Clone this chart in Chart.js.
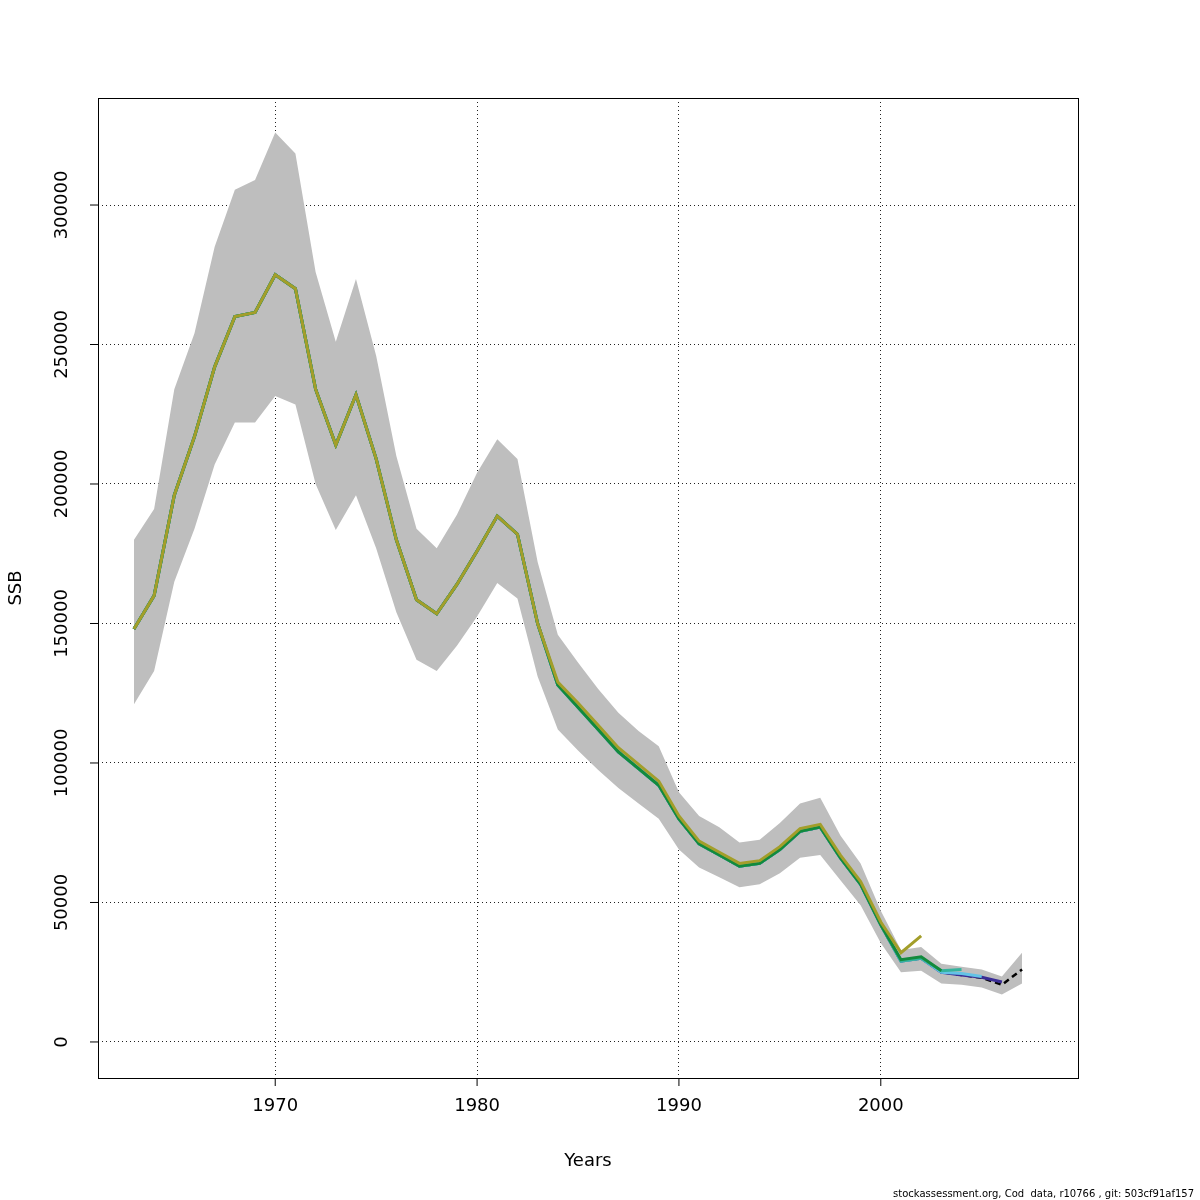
<!DOCTYPE html>
<html>
<head>
<meta charset="utf-8">
<script src="https://cdn.jsdelivr.net/npm/chart.js@4"></script>
<style>
  body { margin: 0; background: #fff; }
  #wrap { width: 1200px; height: 1200px; }
</style>
</head>
<body>
<div id="wrap"><canvas id="ssbChart" width="1200" height="1200"></canvas></div>
<script>
const years = [1963,1964,1965,1966,1967,1968,1969,1970,1971,1972,1973,1974,1975,1976,1977,1978,1979,1980,1981,1982,1983,1984,1985,1986,1987,1988,1989,1990,1991,1992,1993,1994,1995,1996,1997,1998,1999,2000,2001,2002,2003,2004,2005,2006,2007];
const ssb = [148000,160000,196000,217000,242000,260000,261500,275000,270000,234000,214000,232000,209000,180000,158500,153500,164000,176000,188500,182000,150000,128000,120000,112000,104000,98000,92000,80000,71000,67000,63000,64000,69000,75500,77000,66000,56500,42000,29000,30000,25000,24000,23000,20500,26000];
const ssbHigh = [180000,191000,234000,254000,285000,305500,309000,326000,318500,276000,251000,273500,246000,210000,184000,177000,189000,204000,216000,209000,172000,146000,136000,126500,118000,111500,106000,89500,81000,77000,71500,72500,78500,85500,87500,74000,64000,47000,33000,34000,28000,27000,26000,23500,32000];
const ssbLow = [121000,133000,165000,184000,207000,222000,222000,231500,228500,200000,183500,196000,177000,154000,137000,133000,142000,152500,164500,159000,131000,112000,104500,97500,91000,85500,80000,69000,62500,59000,55500,56500,60500,66000,67000,58000,49000,35500,25000,25500,21000,20500,19500,17000,21000];
// retrospective peels: tails that differ from the final run
const peel1Tail = [23200,21500];          // to 2006
const peel2Tail = [24500,23500];          // to 2005
const peel3Tail = [25500,26000];          // to 2004
const peel4Tail = [29500,30500,25500];    // to 2003
const peel5Tail = [129000,121500,113500,105500,99500,93500,81000,72000,68000,64000,65000,70000,76500,78000,67000,57500,43000,32000,38000]; // 1984 to 2002
const xTicks = [1970,1980,1990,2000];
const yTicks = [0,50000,100000,150000,200000,250000,300000];

const pts = arr => arr.map((v, i) => ({ x: years[i], y: v }));
const withTail = (lastYear, tail) => {
  const end = years.indexOf(lastYear);
  const head = ssb.slice(0, end + 1 - tail.length);
  return pts(head.concat(tail));
};

const frame = {
  id: 'frame',
  afterDraw(chart) {
    const { ctx, chartArea: a, scales: { x, y } } = chart;
    ctx.save();
    ctx.strokeStyle = '#000';
    ctx.lineWidth = 1;
    ctx.strokeRect(a.left + 0.5, a.top + 0.5, a.right - a.left, a.bottom - a.top);
    ctx.fillStyle = '#000';
    ctx.font = '18px "DejaVu Sans"';
    ctx.textAlign = 'center';
    ctx.textBaseline = 'top';
    xTicks.forEach(v => {
      const px = x.getPixelForValue(v);
      ctx.beginPath(); ctx.moveTo(px, a.bottom); ctx.lineTo(px, a.bottom + 8); ctx.stroke();
      ctx.fillText(String(v), px, a.bottom + 19);
    });
    yTicks.forEach(v => {
      const py = y.getPixelForValue(v);
      ctx.beginPath(); ctx.moveTo(a.left, py); ctx.lineTo(a.left - 8, py); ctx.stroke();
      ctx.save();
      ctx.translate(a.left - 36, py);
      ctx.rotate(-Math.PI / 2);
      ctx.textBaseline = 'middle';
      ctx.fillText(String(v), 0, 0);
      ctx.restore();
    });
    ctx.fillText('Years', (a.left + a.right) / 2, 1152);
    ctx.save();
    ctx.translate(16, (a.top + a.bottom) / 2);
    ctx.rotate(-Math.PI / 2);
    ctx.textBaseline = 'middle';
    ctx.fillText('SSB', 0, 0);
    ctx.restore();
    ctx.font = '10px "DejaVu Sans"';
    ctx.textAlign = 'right';
    ctx.fillText('stockassessment.org, Cod  data, r10766 , git: 503cf91af157', 1194, 1189);
    ctx.restore();
  }
};

const line = (data, color, order, extra) => Object.assign({
  data, borderColor: color, borderWidth: 3, pointRadius: 0, fill: false, tension: 0, order
}, extra || {});

new Chart(document.getElementById('ssbChart'), {
  type: 'line',
  data: {
    datasets: [
      { data: pts(ssbHigh), borderWidth: 0, borderColor: 'rgba(0,0,0,0)', backgroundColor: '#bebebe', pointRadius: 0, fill: false, order: 8 },
      { data: pts(ssbLow), borderWidth: 0, borderColor: 'rgba(0,0,0,0)', backgroundColor: '#bebebe', pointRadius: 0, fill: '-1', order: 7 },
      line(pts(ssb), '#000', 6, { borderDash: [6, 4], borderWidth: 2.5 }),
      line(withTail(2006, peel1Tail), '#3a2c95', 5),
      line(withTail(2005, peel2Tail), '#63c3e6', 4),
      line(withTail(2004, peel3Tail), '#34b39c', 3),
      line(withTail(2003, peel4Tail), '#138a3c', 2),
      line(withTail(2002, peel5Tail), '#a39e2a', 1)
    ]
  },
  options: {
    responsive: false,
    animation: false,
    layout: { padding: { left: 98, right: 122, top: 98, bottom: 122 } },
    plugins: { legend: { display: false }, tooltip: { enabled: false }, filler: { drawTime: 'beforeDatasetsDraw' } },
    scales: {
      x: {
        type: 'linear', min: 1961.22, max: 2009.77,
        afterBuildTicks: s => { s.ticks = xTicks.map(v => ({ value: v })); },
        ticks: { display: false },
        border: { display: false, dash: [1, 3] },
        grid: { color: '#222', lineWidth: 1, drawTicks: false },
        afterFit: s => { s.height = 0; }
      },
      y: {
        type: 'linear', min: -12917, max: 338360,
        afterBuildTicks: s => { s.ticks = yTicks.map(v => ({ value: v })); },
        ticks: { display: false },
        border: { display: false, dash: [1, 3] },
        grid: { color: '#222', lineWidth: 1, drawTicks: false },
        afterFit: s => { s.width = 0; }
      }
    }
  },
  plugins: [frame]
});
</script>
</body>
</html>
